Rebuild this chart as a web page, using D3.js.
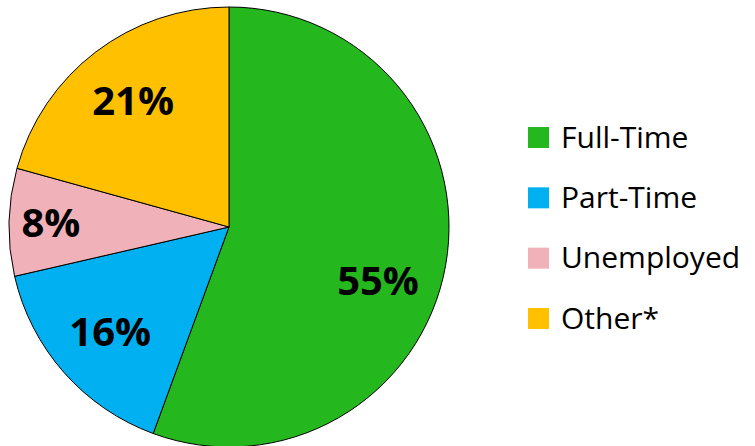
<!DOCTYPE html>
<html>
<head>
<meta charset="utf-8">
<script src="https://cdn.jsdelivr.net/npm/d3@7"></script>
<style>
html,body{margin:0;padding:0;background:#fff;}
svg{display:block;}
</style>
</head>
<body>
<svg id="chart" width="755" height="446"></svg>
<script>
const categories = ["Full-Time", "Part-Time", "Unemployed", "Other*"];
const values = [55.6, 15.8, 7.9, 20.7];
const labels = ["55%", "16%", "8%", "21%"];
const colors = ["#25B71E", "#00B0F0", "#F0B1B8", "#FFC000"];

const svg = d3.select("#chart");
const cx = 229, cy = 227, R = 220;
const font = "'Open Sans', Carlito, Lato, sans-serif";

const data = categories.map((c, i) => ({ name: c, value: values[i], label: labels[i], color: colors[i] }));
const pie = d3.pie().value(d => d.value).sort(null);
const arcs = pie(data);
const arc = d3.arc().innerRadius(0).outerRadius(R);

const g = svg.append("g").attr("transform", `translate(${cx},${cy})`);
g.selectAll("path").data(arcs).join("path")
  .attr("d", arc)
  .attr("fill", d => d.data.color)
  .attr("stroke", "#000")
  .attr("stroke-width", 1);

const total = d3.sum(values);
g.selectAll("text").data(arcs).join("text")
  .attr("transform", d => {
    const share = d.data.value / total;
    const rr = R * (share < 0.1 ? 0.81 : 0.72);
    let a = (d.startAngle + d.endAngle) / 2;
    if (share > 0.5) a += 0.17; // best-fit placement shifts the large slice label downward
    return `translate(${rr * Math.sin(a)},${-rr * Math.cos(a)})`;
  })
  .attr("text-anchor", "middle")
  .attr("dy", "0.36em")
  .attr("font-family", font)
  .attr("font-weight", "bold")
  .attr("font-size", 40)
  .attr("fill", "#000")
  .text(d => d.data.label);

const legendY = d3.scalePoint().domain(categories).range([137, 318]);
const lg = svg.append("g");
const items = lg.selectAll("g").data(data).join("g")
  .attr("transform", d => `translate(528,${legendY(d.name)})`);
items.append("rect")
  .attr("x", 0).attr("y", -10).attr("width", 21).attr("height", 21)
  .attr("fill", d => d.color);
items.append("text")
  .attr("x", 33).attr("y", 0).attr("dy", "0.36em")
  .attr("font-family", font)
  .attr("font-size", 30)
  .attr("fill", "#000")
  .text(d => d.name);
</script>
</body>
</html>
